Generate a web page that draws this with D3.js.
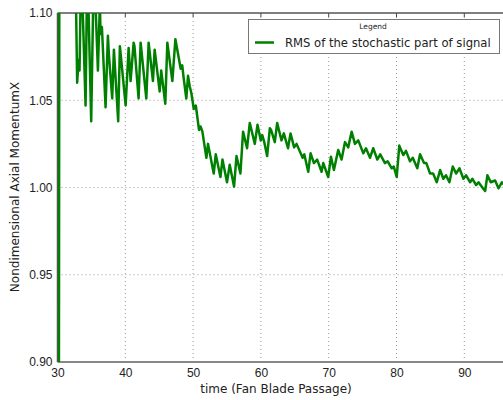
<!DOCTYPE html>
<html>
<head>
<meta charset="utf-8">
<script src="https://cdn.jsdelivr.net/npm/d3@7.9.0/dist/d3.min.js"></script>
<style>
  body { margin: 0; background: #fff; }
  svg { display: block; font-family: "DejaVu Sans", sans-serif; }
  .grid line { stroke: #999; stroke-dasharray: 1,3; }
  .tick text { fill: #222; }
</style>
</head>
<body>
<div id="chart"></div>
<script>
/* ---------- data --------- */
const time = [
  30.2, 30.3, 31.5, 32.6,
  32.9, 33.1, 33.25, 33.5, 34.14, 34.4, 34.97, 35.37, 35.96, 36.25, 36.35, 36.55,
  37.09, 37.43, 37.6, 38.07, 38.32, 38.95, 39.2, 40.05, 40.49, 40.78, 41.23, 41.35,
  41.96, 42.26, 43.1, 43.44, 44.08, 44.33, 45.07, 45.3, 45.9, 46.2, 46.94, 47.39,
  48.17, 48.4, 48.6, 49.0, 49.25, 49.5, 49.75, 50.1, 50.4, 50.87, 51.1, 51.37,
  51.96, 52.2, 53.04, 53.34, 54.03, 54.33, 55.0, 55.4, 56.04, 56.4, 56.98, 57.37,
  57.96, 58.36, 59.1, 59.5, 59.98, 60.2, 60.5, 60.92, 61.32, 61.5, 62.05, 62.4,
  63.04, 63.38, 64.0, 64.37, 64.9, 65.26, 66.15, 66.4, 66.98, 67.33, 67.82, 68.3,
  68.95, 69.2, 69.93, 70.33, 70.77, 71.4, 71.9, 72.4, 72.88, 73.38, 73.87, 74.36,
  75.1, 75.5, 76.09, 76.57, 77.17, 77.6, 78.3, 78.7, 79.29, 79.6, 80.03, 80.41,
  80.5, 81.0, 81.4, 81.99, 82.4, 83.07, 83.47, 84.06, 84.4, 84.95, 85.4, 85.94,
  86.43, 86.91, 87.3, 87.8, 88.3, 88.79, 89.28, 89.87, 90.27, 90.86, 91.2, 91.74,
  92.1, 92.58, 93.07, 93.41, 93.9, 94.55, 95.04, 95.54, 96.0
];
const rms = [
  0.85, 1.25, 1.20, 1.14,
  1.060, 1.073, 1.067, 1.13, 1.047, 1.13, 1.038, 1.13, 1.067, 1.105, 1.088, 1.092,
  1.046, 1.087, 1.075, 1.051, 1.079, 1.038, 1.081, 1.047, 1.080, 1.061, 1.083, 1.081,
  1.051, 1.083, 1.051, 1.083, 1.061, 1.079, 1.055, 1.067, 1.048, 1.083, 1.061, 1.085,
  1.068, 1.070, 1.063, 1.051, 1.064, 1.058, 1.054, 1.045, 1.047, 1.033, 1.035, 1.032,
  1.017, 1.025, 1.008, 1.019, 1.006, 1.016, 1.003, 1.013, 1.0005, 1.018, 1.008, 1.032,
  1.0225, 1.037, 1.025, 1.036, 1.027, 1.030, 1.026, 1.018, 1.034, 1.033, 1.026, 1.037,
  1.027, 1.031, 1.0225, 1.031, 1.023, 1.025, 1.017, 1.019, 1.009, 1.0196, 1.014, 1.016,
  1.009, 1.014, 1.006, 1.0176, 1.010, 1.0215, 1.016, 1.026, 1.023, 1.032, 1.025, 1.027,
  1.0196, 1.0225, 1.017, 1.0225, 1.016, 1.019, 1.014, 1.015, 1.011, 1.012, 1.006, 1.024,
  1.023, 1.0186, 1.021, 1.015, 1.017, 1.011, 1.019, 1.014, 1.014, 1.008, 1.008, 1.003,
  1.010, 1.005, 1.007, 1.003, 1.012, 1.008, 1.011, 1.005, 1.007, 1.003, 1.005, 1.0014,
  1.003, 1.0005, 0.998, 1.007, 1.003, 1.004, 0.9995, 1.003, 1.001
];
const xTicks = [30, 40, 50, 60, 70, 80, 90];
const yTicks = [0.90, 0.95, 1.00, 1.05, 1.10];

/* ---------- layout --------- */
const W = 503, H = 400;
const area = { l: 57.5, r: 57.5 + 70 * 6.78, t: 13, b: 362 };

const svg = d3.select('#chart').append('svg')
  .attr('width', W).attr('height', H);

const x = d3.scaleLinear().domain([30, 100]).range([area.l, area.r]);
const y = d3.scaleLinear().domain([0.90, 1.10]).range([area.b, area.t]);

svg.append('clipPath').attr('id', 'clip')
  .append('rect')
  .attr('x', area.l).attr('y', area.t)
  .attr('width', area.r - area.l).attr('height', area.b - area.t);

/* grid */
const grid = svg.append('g').attr('class', 'grid');
grid.selectAll('.vx').data(xTicks.slice(1)).join('line')
  .attr('x1', d => x(d)).attr('x2', d => x(d))
  .attr('y1', area.t).attr('y2', area.b);
grid.selectAll('.hy').data(yTicks.slice(1, -1)).join('line')
  .attr('x1', area.l).attr('x2', area.r)
  .attr('y1', d => y(d)).attr('y2', d => y(d));

/* axes */
const xAxis = svg.append('g')
  .attr('transform', `translate(0,${area.b})`)
  .call(d3.axisBottom(x).tickValues(xTicks).tickFormat(d3.format('d')).tickSize(0).tickPadding(6));
xAxis.select('.domain').remove();
xAxis.selectAll('text').style('font-size', '12px');

const yAxis = svg.append('g')
  .attr('transform', `translate(${area.l},0)`)
  .call(d3.axisLeft(y).tickValues(yTicks).tickFormat(d3.format('.2f')).tickSize(0).tickPadding(5));
yAxis.select('.domain').remove();
yAxis.selectAll('text').style('font-size', '12px');

/* inward tick marks on top spine */
svg.append('g').selectAll('line').data(xTicks.slice(1)).join('line')
  .attr('x1', d => x(d)).attr('x2', d => x(d))
  .attr('y1', area.t).attr('y2', area.t + 4)
  .attr('stroke', '#444');

/* spines */
svg.append('line')
  .attr('x1', area.l).attr('x2', W).attr('y1', area.t).attr('y2', area.t)
  .attr('stroke', '#555').attr('stroke-width', 1.5);
svg.append('line')
  .attr('x1', area.l).attr('x2', W).attr('y1', area.b).attr('y2', area.b)
  .attr('stroke', '#888').attr('stroke-width', 2);
svg.append('line')
  .attr('x1', area.l).attr('x2', area.l).attr('y1', area.t).attr('y2', area.b)
  .attr('stroke', '#555').attr('stroke-width', 1.5);

/* the line */
const line = d3.line().x((d, i) => x(time[i])).y(d => y(d));
svg.append('path')
  .datum(rms)
  .attr('clip-path', 'url(#clip)')
  .attr('fill', 'none')
  .attr('stroke', '#008000')
  .attr('stroke-width', 2.5)
  .attr('stroke-linejoin', 'round')
  .attr('d', line);

/* axis labels */
svg.append('text')
  .attr('x', 276).attr('y', 393)
  .attr('text-anchor', 'middle')
  .style('font-size', '12px').attr('fill', '#222')
  .text('time (Fan Blade Passage)');
svg.append('text')
  .attr('transform', 'translate(19,187) rotate(-90)')
  .attr('text-anchor', 'middle')
  .style('font-size', '12px').attr('fill', '#222')
  .text('Nondimensional Axial MomentumX');

/* legend */
const lg = svg.append('g');
lg.append('rect')
  .attr('x', 248.5).attr('y', 19.5).attr('width', 251).attr('height', 34)
  .attr('fill', '#fff').attr('stroke', '#777');
lg.append('text')
  .attr('x', 373).attr('y', 29)
  .attr('text-anchor', 'middle')
  .style('font-size', '7.5px').attr('fill', '#222')
  .text('Legend');
lg.append('line')
  .attr('x1', 255).attr('x2', 274).attr('y1', 42.5).attr('y2', 42.5)
  .attr('stroke', '#008000').attr('stroke-width', 2.5);
lg.append('text')
  .attr('x', 285).attr('y', 47)
  .style('font-size', '11.6px').attr('fill', '#222')
  .text('RMS of the stochastic part of signal');
</script>
</body>
</html>
